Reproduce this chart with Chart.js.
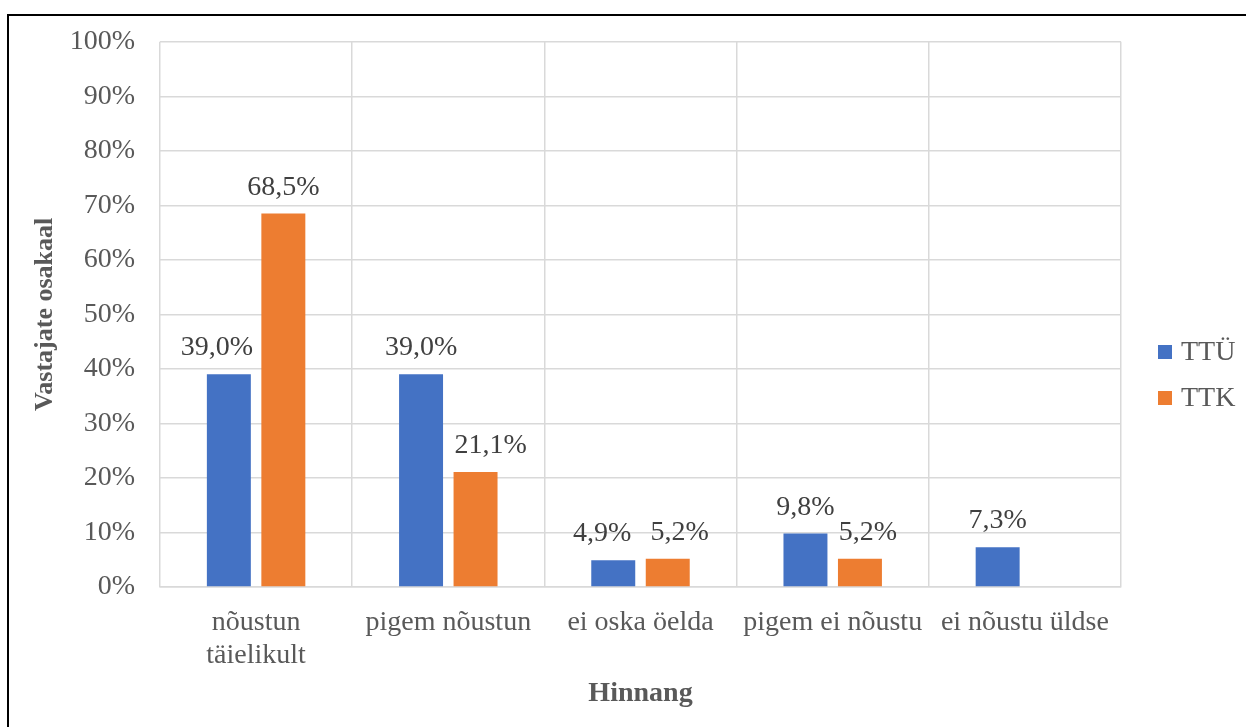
<!DOCTYPE html>
<html>
<head>
<meta charset="utf-8">
<script src="https://cdn.jsdelivr.net/npm/chart.js@4.4.1/dist/chart.umd.min.js"></script>
<style>
  html, body { margin: 0; padding: 0; background: #fff; overflow: hidden; }
  #wrap { position: absolute; left: 0; top: 0; width: 1246px; height: 727px; }
  #frame { position: absolute; left: 7px; top: 14px; width: 1300px; height: 800px; border: 2px solid #000; box-sizing: border-box; pointer-events: none; }
</style>
</head>
<body>
<div id="wrap">
  <canvas id="c" width="1246" height="727"></canvas>
  <div id="frame"></div>
</div>
<script>
const categories = [['nõustun', 'täielikult'], 'pigem nõustun', 'ei oska öelda', 'pigem ei nõustu', 'ei nõustu üldse'];
const seriesNames = ['TTÜ', 'TTK'];
const ttuValues = [39.0, 39.0, 4.9, 9.8, 7.3];
const ttkValues = [68.5, 21.1, 5.2, 5.2, null];
const seriesColors = ['#4472C4', '#ED7D31'];
const yTicks = [0, 10, 20, 30, 40, 50, 60, 70, 80, 90, 100];

const FONT = "'Liberation Serif', 'Times New Roman', serif";
const FS = 28;
const TICK_COLOR = '#595959';
const LABEL_COLOR = '#404040';
const GRID = '#D9D9D9';

// horizontal label nudges (to keep labels from colliding, as in the original)
const labelNudge = [[-12, 0, -11, 0, 0], [0, 15, 12, 8, 0]];

function fmt(v) { return v.toFixed(1).replace('.', ',') + '%'; }

const dataLabels = {
  id: 'dataLabels',
  afterDatasetsDraw(chart) {
    const ctx = chart.ctx;
    ctx.save();
    ctx.font = FS + 'px ' + FONT;
    ctx.fillStyle = LABEL_COLOR;
    ctx.textAlign = 'center';
    ctx.textBaseline = 'alphabetic';
    chart.data.datasets.forEach((ds, di) => {
      const meta = chart.getDatasetMeta(di);
      meta.data.forEach((bar, i) => {
        const v = ds.data[i];
        if (v === null || v === undefined) return;
        ctx.fillText(fmt(v), bar.x + labelNudge[di][i], bar.y - 19);
      });
    });
    ctx.restore();
  }
};

const customLegend = {
  id: 'customLegend',
  afterDraw(chart) {
    const ctx = chart.ctx;
    ctx.save();
    ctx.font = FS + 'px ' + FONT;
    ctx.textAlign = 'left';
    ctx.textBaseline = 'middle';
    const x0 = chart.chartArea.right + 37;
    const yc = [352, 398];
    chart.data.datasets.forEach((ds, i) => {
      ctx.fillStyle = ds.backgroundColor;
      ctx.fillRect(x0, yc[i] - 7, 14, 14);
      ctx.fillStyle = TICK_COLOR;
      ctx.fillText(ds.label, x0 + 23, yc[i] + 1);
    });
    ctx.restore();
  }
};

new Chart(document.getElementById('c'), {
  type: 'bar',
  data: {
    labels: categories,
    datasets: [
      { label: seriesNames[0], data: ttuValues, backgroundColor: seriesColors[0], categoryPercentage: 0.567, barPercentage: 0.807 },
      { label: seriesNames[1], data: ttkValues, backgroundColor: seriesColors[1], categoryPercentage: 0.567, barPercentage: 0.807 }
    ]
  },
  options: {
    responsive: false,
    animation: false,
    devicePixelRatio: 1,
    layout: { padding: { left: 8, top: 37, right: 125, bottom: 16 } },
    plugins: {
      legend: { display: false },
      tooltip: { enabled: false }
    },
    scales: {
      x: {
        grid: { color: GRID, lineWidth: 1.5, drawTicks: false, offset: true },
        border: { color: GRID, width: 1.5 },
        ticks: { color: TICK_COLOR, font: { family: FONT, size: FS, lineHeight: 1.15 }, padding: 20, maxRotation: 0, autoSkip: false },
        title: { display: true, text: 'Hinnang', color: TICK_COLOR, font: { family: FONT, size: FS, weight: 'bold' }, padding: { top: 0, bottom: 0 } },
        afterFit(s) { s.height = 124; }
      },
      y: {
        min: 0, max: 100,
        grid: { color: GRID, lineWidth: 1.5, drawTicks: false },
        border: { display: false },
        afterBuildTicks(s) { s.ticks = yTicks.map(v => ({ value: v })); },
        ticks: { color: TICK_COLOR, font: { family: FONT, size: FS }, padding: 25, callback: v => v + '%' },
        title: { display: true, text: 'Vastajate osakaal', color: TICK_COLOR, font: { family: FONT, size: 26, weight: 'bold' }, padding: { top: 22, bottom: 0 } },
        afterFit(s) { s.width = 152; }
      }
    }
  },
  plugins: [dataLabels, customLegend]
});
</script>
</body>
</html>
